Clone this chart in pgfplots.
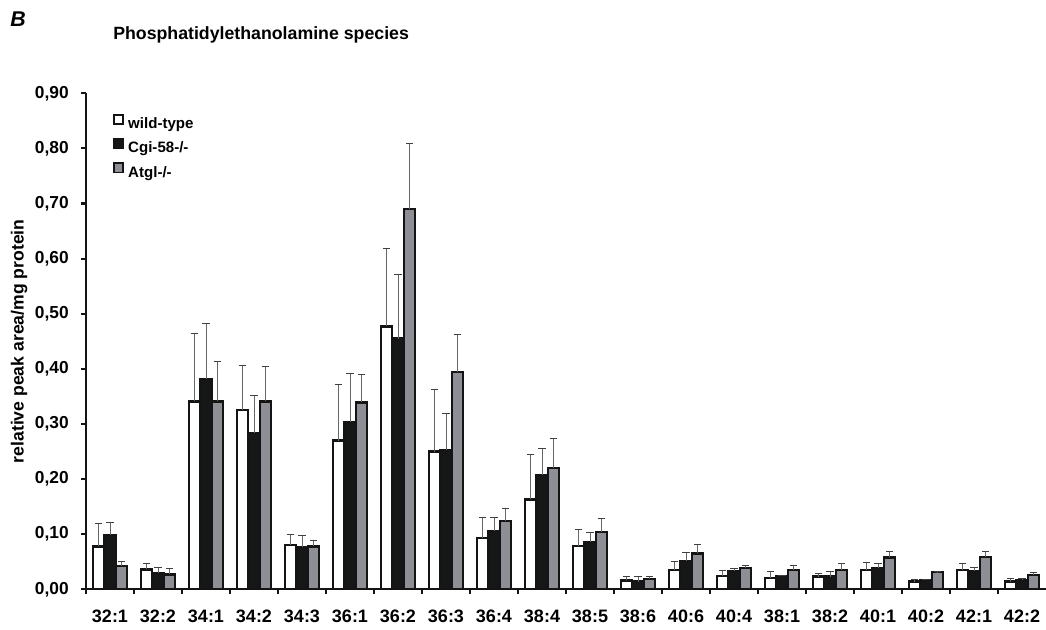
\documentclass[border=0pt]{standalone}
\usepackage{fontspec}
\setmainfont{Liberation Sans}
\usepackage{pgfplots}
\usepackage{pgfplotstable}
\pgfplotsset{compat=1.18}
\definecolor{wt}{HTML}{FFFFFF}
\definecolor{cg}{HTML}{151617}
\definecolor{at}{HTML}{8E8F94}
\definecolor{edge}{HTML}{141414}

\pgfplotstableread{
x  w     we    b     be    g     ge
0  0.078 0.041 0.099 0.023 0.042 0.008
1  0.036 0.011 0.030 0.010 0.027 0.010
2  0.341 0.124 0.382 0.101 0.341 0.073
3  0.325 0.082 0.284 0.068 0.341 0.064
4  0.080 0.020 0.076 0.021 0.078 0.011
5  0.270 0.101 0.304 0.087 0.339 0.051
6  0.477 0.141 0.455 0.116 0.690 0.119
7  0.250 0.112 0.252 0.067 0.394 0.068
8  0.093 0.038 0.106 0.025 0.124 0.022
9  0.163 0.081 0.207 0.049 0.220 0.053
10 0.079 0.030 0.086 0.018 0.104 0.025
11 0.016 0.007 0.014 0.009 0.019 0.004
12 0.035 0.015 0.051 0.016 0.065 0.016
13 0.024 0.010 0.033 0.004 0.039 0.005
14 0.021 0.011 0.024 0.002 0.035 0.008
15 0.023 0.005 0.023 0.010 0.035 0.011
16 0.035 0.013 0.039 0.007 0.058 0.010
17 0.014 0.004 0.016 0.002 0.031 0.001
18 0.035 0.011 0.033 0.006 0.059 0.009
19 0.014 0.006 0.017 0.003 0.026 0.004
}\data

\begin{document}
\begin{tikzpicture}[x=0.75pt,y=0.75pt]
\begin{axis}[
  at={(64.5pt,29.775pt)}, anchor=south west, scale only axis,
  width=720pt, height=372pt,
  xmin=-0.5, xmax=19.5, ymin=0, ymax=0.9,
  axis lines*=left,
  axis line style={line width=1.6pt, draw=edge},
  tick style={line width=1.6pt, draw=edge},
  tick align=outside,
  major tick length=3.75pt,
  ybar=0pt, bar width=0.24,
  xtick={-0.5,0.5,...,18.5}, xticklabels={},
  extra x ticks={0,1,...,19},
  extra x tick labels={32:1,32:2,34:1,34:2,34:3,36:1,36:2,36:3,36:4,38:4,38:5,38:6,40:6,40:4,38:1,38:2,40:1,40:2,42:1,42:2},
  extra x tick style={major tick length=0pt,
    xticklabel style={anchor=center, inner sep=0pt, yshift=-20pt,
      font=\fontsize{13.5pt}{15pt}\selectfont\bfseries}},
  ytick={0,0.1,0.2,0.3,0.4,0.5,0.6,0.7,0.8,0.9},
  yticklabel style={/pgf/number format/fixed, /pgf/number format/fixed zerofill,
    /pgf/number format/precision=2, /pgf/number format/use comma,
    /pgf/number format/assume math mode=true,
    anchor=east, inner sep=0pt, xshift=-9pt,
    font=\fontsize{13pt}{15pt}\selectfont\bfseries},
  ylabel={relative peak area/mg protein},
  every axis y label/.style={at={(axis description cs:-0.0698,0.5)}, rotate=90, anchor=center,
    font=\fontsize{13.2pt}{15pt}\selectfont\bfseries},
  legend style={at={(axis description cs:0.028,0.959)}, anchor=north west,
    draw=none, fill=none, inner sep=0pt, row sep=3.6pt, column sep=2.5pt,
    font=\fontsize{11.3pt}{13pt}\selectfont\bfseries,
    nodes={inner xsep=0.5pt, inner ysep=1pt, text height=8pt, text depth=2.5pt}},
  legend cell align=left,
  legend image code/.code={\draw[#1, line width=1.4pt] (0.7pt,0.7pt) rectangle (7.6pt,7.6pt);},
]
\addplot[fill=wt, draw=edge, line width=1.8pt,
  error bars/.cd, y dir=plus, y explicit,
  error bar style={line width=0.6pt, draw=black!60},
  error mark options={rotate=90, mark size=2.8pt, line width=0.7pt, draw=black!75}]
  table[x=x, y=w, y error=we]{\data};
\addlegendentry{wild-type}
\addplot[fill=cg, draw=edge, line width=1.8pt,
  error bars/.cd, y dir=plus, y explicit,
  error bar style={line width=0.6pt, draw=black!60},
  error mark options={rotate=90, mark size=2.8pt, line width=0.7pt, draw=black!75}]
  table[x=x, y=b, y error=be]{\data};
\addlegendentry{Cgi-58-/-}
\addplot[fill=at, draw=edge, line width=1.8pt,
  error bars/.cd, y dir=plus, y explicit,
  error bar style={line width=0.6pt, draw=black!60},
  error mark options={rotate=90, mark size=2.8pt, line width=0.7pt, draw=black!75}]
  table[x=x, y=g, y error=ge]{\data};
\addlegendentry{Atgl-/-}
\end{axis}
\node[anchor=base west, inner sep=0pt, font=\fontsize{13.3pt}{15pt}\selectfont\bfseries] at (113,589.7) {Phosphatidylethanolamine species};
\node[anchor=base west, inner sep=0pt, font=\fontsize{16pt}{18pt}\selectfont\bfseries\itshape] at (10,602) {B};
\pgfresetboundingbox
\useasboundingbox (0,0) rectangle (1046,629);
\end{tikzpicture}
\end{document}
